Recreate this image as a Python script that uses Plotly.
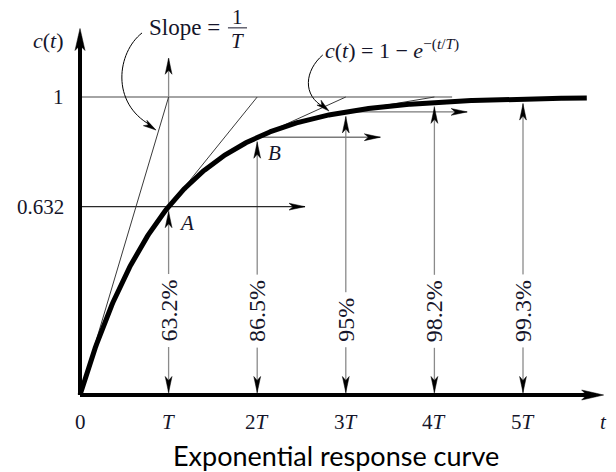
import math
import numpy as np
import plotly.graph_objects as go

# ---------------- values ----------------
T_MULTIPLES = [1, 2, 3, 4, 5]
RESPONSE_AT_KT = [0.632, 0.865, 0.95, 0.982, 0.993]
PERCENT_LABELS = ["63.2%", "86.5%", "95%", "98.2%", "99.3%"]

X_TICK_VALS = [0, 1, 2, 3, 4, 5]
X_TICK_TEXT = ["0", "<i>T</i>", "2<i>T</i>", "3<i>T</i>", "4<i>T</i>", "5<i>T</i>"]
Y_TICK_VALS = [1, 0.632]
Y_TICK_TEXT = ["1", "0.632"]

# reach of the horizontal "value" arrows drawn from A, B and 3T
HORIZ_STARTS = [0.0, 2.0, 3.0]
HORIZ_LEVELS = [0.632, 0.865, 0.95]
HORIZ_ENDS = [2.54, 3.39, 4.37]

T_END = 5.72          # end of the plotted response
X_AXIS_END = 5.91     # tip of the t axis arrow
Y_AXIS_END = 1.23     # tip of the c(t) axis arrow
T_MARK_TOP = 1.13     # top of the arrow above t = T
UNITY_LINE_END = 4.2

# ---------------- canvas / scales ----------------
W, H = 616, 472
ORIGIN_PX = (80, 395)      # where (0, 0) sits on the canvas
PX_PER_T = 88.6
PX_PER_C = 298.0
X_RANGE = [-ORIGIN_PX[0] / PX_PER_T, (W - ORIGIN_PX[0]) / PX_PER_T]
Y_RANGE = [-(H - ORIGIN_PX[1]) / PX_PER_C, ORIGIN_PX[1] / PX_PER_C]

SERIF = "Liberation Serif, Times New Roman, serif"
INK = "#15152a"


def dx(px):
    return px / PX_PER_T


def dy(px):
    return px / PX_PER_C


def head(tx, ty, ang, length=15.0, half=3.4, notch=4.0):
    """Closed polygon for a slim stealth arrowhead with its tip at (tx, ty)."""
    a = math.radians(ang)
    ux, uy = math.cos(a), math.sin(a)
    vx, vy = -uy, ux
    pts = [
        (0, 0),
        (-length * ux + half * vx, -length * uy + half * vy),
        (-(length - notch) * ux, -(length - notch) * uy),
        (-length * ux - half * vx, -length * uy - half * vy),
        (0, 0),
    ]
    xs = [tx + dx(px) for px, _ in pts]
    ys = [ty + dy(py) for _, py in pts]
    return xs, ys


def segs(pairs):
    xs, ys = [], []
    for (x0, y0), (x1, y1) in pairs:
        xs += [x0, x1, None]
        ys += [y0, y1, None]
    return xs, ys


fig = go.Figure()


def add_lines(pairs, color, width):
    xs, ys = segs(pairs)
    fig.add_trace(go.Scatter(x=xs, y=ys, mode="lines",
                             line=dict(color=color, width=width),
                             hoverinfo="skip", showlegend=False))


# unity reference line
add_lines([((0, 1), (UNITY_LINE_END, 1))], "#4a4a4a", 1.2)

# vertical markers at t = kT
vert = []
for k, p in zip(T_MULTIPLES, RESPONSE_AT_KT):
    top = T_MARK_TOP if k == 1 else p - dy(4)
    vert.append(((k, 0), (k, top)))
add_lines(vert, "#8a8a8a", 1.3)

# horizontal value arrows
add_lines([((HORIZ_STARTS[0], HORIZ_LEVELS[0]), (HORIZ_ENDS[0], HORIZ_LEVELS[0]))], "#2a2a2a", 1.3)
add_lines([((s, v), (e, v)) for s, v, e in zip(HORIZ_STARTS[1:], HORIZ_LEVELS[1:], HORIZ_ENDS[1:])],
          "#7a7a7a", 1.3)

# tangent lines: slope 1/T from the origin, then at A, B and 3T
tangents = [((0, 0), (1, 1))]
for k, p in zip(T_MULTIPLES[:3], RESPONSE_AT_KT[:3]):
    tangents.append(((k, p), (k + 1, 1)))
add_lines(tangents, "#3a3a3a", 1.0)

# axes
add_lines([((0, 0), (X_AXIS_END - dx(8), 0)), ((0, 0), (0, Y_AXIS_END - dy(8)))], "black", 4)

# step response c(t) = 1 - exp(-t/T)
t = np.linspace(0, T_END, 400)
fig.add_trace(go.Scatter(x=t, y=1 - np.exp(-t), mode="lines",
                         line=dict(color="black", width=5),
                         hoverinfo="skip", showlegend=False))

# arrowheads
hx, hy = [], []


def put(xs, ys):
    hx.extend(xs + [None])
    hy.extend(ys + [None])


for k, p in zip(T_MULTIPLES, RESPONSE_AT_KT):
    put(*head(k, dy(2.5), -90, length=16))
    put(*head(k, p - dy(5), 90, length=16))
put(*head(1, T_MARK_TOP, 90, length=16))
for v, e in zip(HORIZ_LEVELS, HORIZ_ENDS):
    put(*head(e, v, 0, length=16))
put(*head(X_AXIS_END, 0, 0, length=22, half=5, notch=5))
put(*head(0, Y_AXIS_END, 90, length=22, half=5, notch=5))
put(*head(0.858, 0.889, -33, length=13, half=3.2, notch=3.5))
put(*head(2.81, 0.953, -40, length=13, half=3.2, notch=3.5))
fig.add_trace(go.Scatter(x=hx, y=hy, mode="lines", fill="toself",
                         fillcolor="black", line=dict(color="black", width=0.5),
                         hoverinfo="skip", showlegend=False))

shapes = [
    # curved pointer to the slope line
    dict(type="path", xref="x", yref="y",
         path="M 0.70,1.215 C 0.42,1.15 0.34,0.98 0.80,0.905",
         line=dict(color="black", width=1)),
    # curved pointer to the response curve
    dict(type="path", xref="x", yref="y",
         path="M 2.74,1.141 C 2.54,1.09 2.50,1.005 2.76,0.965",
         line=dict(color="black", width=1)),
    # fraction bar of 1/T
    dict(type="line", xref="x", yref="y", x0=1.67, x1=1.885, y0=1.232, y1=1.232,
         line=dict(color=INK, width=1)),
]

ann = []
for v, txt in zip(X_TICK_VALS, X_TICK_TEXT):
    ann.append(dict(x=v, y=-0.09, text=txt, showarrow=False,
                    font=dict(family=SERIF, size=21, color=INK)))
ann.append(dict(x=X_AXIS_END, y=-0.09, text="<i>t</i>", showarrow=False,
                font=dict(family=SERIF, size=21, color=INK)))
for v, txt in zip(Y_TICK_VALS, Y_TICK_TEXT):
    ann.append(dict(x=-0.16, y=v, text=txt, showarrow=False, xanchor="right",
                    font=dict(family=SERIF, size=21, color=INK)))
ann.append(dict(x=-0.16, y=Y_AXIS_END - 0.04, text="<i>c</i>(<i>t</i>)", showarrow=False,
                xanchor="right", font=dict(family=SERIF, size=22, color=INK)))
for k, lab in zip(T_MULTIPLES, PERCENT_LABELS):
    ann.append(dict(x=k, y=0.158, text=lab, showarrow=False, textangle=-90,
                    xanchor="center", yanchor="bottom", bgcolor="white", borderpad=5,
                    font=dict(family=SERIF, size=24, color=INK)))
ann.append(dict(x=1.207, y=0.577, text="<i>A</i>", showarrow=False,
                font=dict(family=SERIF, size=21, color=INK)))
ann.append(dict(x=2.2, y=0.812, text="<i>B</i>", showarrow=False,
                font=dict(family=SERIF, size=21, color=INK)))
ann.append(dict(x=1.60, y=1.232, text="Slope =", showarrow=False, xanchor="right",
                font=dict(family=SERIF, size=23, color=INK)))
ann.append(dict(x=1.78, y=1.268, text="1", showarrow=False,
                font=dict(family=SERIF, size=21, color=INK)))
ann.append(dict(x=1.78, y=1.188, text="<i>T</i>", showarrow=False,
                font=dict(family=SERIF, size=21, color=INK)))
ann.append(dict(x=2.74, y=1.16,
                text="<i>c</i>(<i>t</i>) = 1 − <i>e</i><sup>−(<i>t</i>/<i>T</i>)</sup>",
                showarrow=False, xanchor="left",
                font=dict(family=SERIF, size=22, color=INK)))
ann.append(dict(x=2.887, y=-0.203, text="Exponential response curve", showarrow=False,
                font=dict(family="Lato", size=27, color="black")))

fig.update_layout(
    width=W, height=H,
    margin=dict(l=0, r=0, t=0, b=0),
    paper_bgcolor="white", plot_bgcolor="white",
    xaxis=dict(range=X_RANGE, visible=False, fixedrange=True),
    yaxis=dict(range=Y_RANGE, visible=False, fixedrange=True),
    shapes=shapes, annotations=ann, showlegend=False,
)

fig.write_html("out.html")
